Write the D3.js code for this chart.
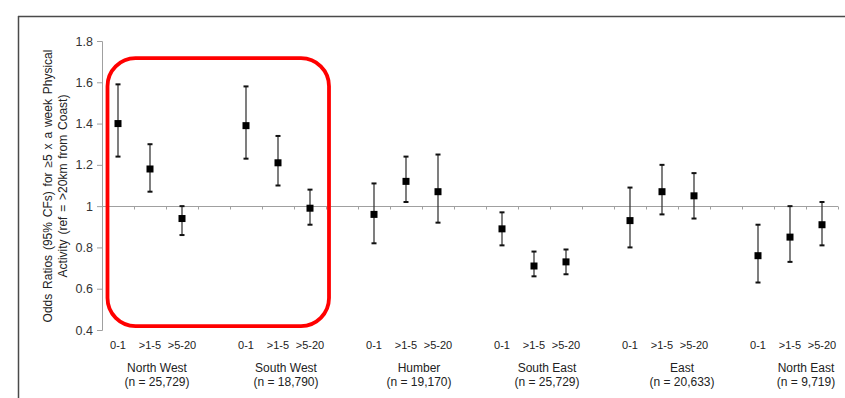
<!DOCTYPE html>
<html>
<head>
<meta charset="utf-8">
<script src="https://cdn.jsdelivr.net/npm/d3@7"></script>
<style>
  html, body { margin: 0; padding: 0; background: #fff; }
  svg { display: block; font-family: "Liberation Sans", Arial, sans-serif; }
</style>
</head>
<body>
<svg id="chart" width="845" height="398"></svg>
<script>
// ---- data ----
const regions = ["North West", "South West", "Humber", "South East", "East", "North East"];
const regionN = ["(n = 25,729)", "(n = 18,790)", "(n = 19,170)", "(n = 25,729)", "(n = 20,633)", "(n = 9,719)"];
const distances = ["0-1", ">1-5", ">5-20"];
// odds ratios per region, in distance order
const oddsRatio = [
  [1.40, 1.18, 0.94],
  [1.39, 1.21, 0.99],
  [0.96, 1.12, 1.07],
  [0.89, 0.71, 0.73],
  [0.93, 1.07, 1.05],
  [0.76, 0.85, 0.91]
];
const ciLower = [
  [1.24, 1.07, 0.86],
  [1.23, 1.10, 0.91],
  [0.82, 1.02, 0.92],
  [0.81, 0.66, 0.67],
  [0.80, 0.96, 0.94],
  [0.63, 0.73, 0.81]
];
const ciUpper = [
  [1.59, 1.30, 1.00],
  [1.58, 1.34, 1.08],
  [1.11, 1.24, 1.25],
  [0.97, 0.78, 0.79],
  [1.09, 1.20, 1.16],
  [0.91, 1.00, 1.02]
];
const yTicks = [0.4, 0.6, 0.8, 1, 1.2, 1.4, 1.6, 1.8];
const yTitle = ["Odds Ratios (95% CFs) for \u22655 x a week Physical", "Activity (ref = >20km from Coast)"];
const highlightRegions = ["North West", "South West"];

(function () {
// ---- layout ----
const svg = d3.select("#chart");
const mLeft = 102, mRight = 838, mTop = 41, mBottom = 330;

// slots: 3 per region + a blank slot between regions
const slots = [];
regions.forEach((r, i) => {
  distances.forEach(d => slots.push(r + "|" + d));
  if (i < regions.length - 1) slots.push("gap" + i);
});

const x = d3.scaleBand().domain(slots).range([mLeft, mRight]).padding(0);
const y = d3.scaleLinear().domain([0.4, 1.8]).range([mBottom, mTop]);

const points = [];
regions.forEach((r, i) => distances.forEach((d, j) => points.push({
  key: r + "|" + d, region: r, dist: d,
  or: oddsRatio[i][j], lo: ciLower[i][j], hi: ciUpper[i][j]
})));

// outer frame
svg.append("line").attr("x1", 18).attr("x2", 845).attr("y1", 16.5).attr("y2", 16.5)
  .attr("stroke", "#4a4a4a").attr("stroke-width", 1.5);
svg.append("line").attr("x1", 18.5).attr("x2", 18.5).attr("y1", 16).attr("y2", 398)
  .attr("stroke", "#4a4a4a").attr("stroke-width", 1.5);

// y axis
const yAxis = d3.axisLeft(y).tickValues(yTicks).tickSize(5).tickPadding(4)
  .tickFormat(d => String(d));
const gy = svg.append("g").attr("transform", `translate(${mLeft},0)`).call(yAxis);
gy.select(".domain").attr("stroke", "#a0a0a0");
gy.selectAll(".tick line").attr("stroke", "#a0a0a0");
gy.selectAll(".tick text").attr("fill", "#333").attr("font-size", 12.5)
  .attr("font-family", "Liberation Sans, Arial, sans-serif");

// x axis line at OR = 1
const y1 = Math.round(y(1)) + 0.5;
svg.append("line").attr("x1", mLeft).attr("x2", mRight).attr("y1", y1).attr("y2", y1)
  .attr("stroke", "#a0a0a0").attr("stroke-width", 1);
const boundaries = slots.map(s => x(s)).concat([mRight]);
svg.append("g").selectAll("line").data(boundaries).join("line")
  .attr("x1", d => Math.round(d) + 0.5).attr("x2", d => Math.round(d) + 0.5)
  .attr("y1", y1).attr("y2", y1 + 3).attr("stroke", "#a0a0a0");

// y title
const yt = svg.append("text")
  .attr("transform", `translate(52,186) rotate(-90)`)
  .attr("text-anchor", "middle").attr("font-size", 12).attr("fill", "#222")
  .attr("word-spacing", 1.5);
yTitle.forEach((t, i) => yt.append("tspan").attr("x", 0).attr("dy", i === 0 ? 0 : 15).text(t));

// category labels
svg.append("g").selectAll("text").data(points).join("text")
  .attr("x", d => x(d.key) + x.bandwidth() / 2)
  .attr("y", 349)
  .attr("text-anchor", "middle").attr("font-size", 11).attr("fill", "#222")
  .text(d => d.dist);

// region labels (centered a little right of the middle slot, as in the original)
const labelShift = [7, 8, 13, 13, 20, 16];
const rg = svg.append("g");
regions.forEach((r, i) => {
  const cx = x(r + "|" + distances[1]) + x.bandwidth() / 2 + labelShift[i];
  rg.append("text").attr("x", cx).attr("y", 372).attr("text-anchor", "middle")
    .attr("font-size", 12).attr("fill", "#222").text(r);
  rg.append("text").attr("x", cx).attr("y", 386).attr("text-anchor", "middle")
    .attr("font-size", 12).attr("fill", "#222").text(regionN[i]);
});

// error bars
const eb = svg.append("g");
const cap = 2.5;
points.forEach(p => {
  const cx = x(p.key) + x.bandwidth() / 2;
  eb.append("line").attr("x1", cx).attr("x2", cx).attr("y1", y(p.hi)).attr("y2", y(p.lo))
    .attr("stroke", "#3a3a3a").attr("stroke-width", 1.3);
  [p.hi, p.lo].forEach(v => eb.append("line")
    .attr("x1", cx - cap).attr("x2", cx + cap).attr("y1", y(v)).attr("y2", y(v))
    .attr("stroke", "#111").attr("stroke-width", 2));
});

// markers
svg.append("g").selectAll("rect").data(points).join("rect")
  .attr("x", d => x(d.key) + x.bandwidth() / 2 - 3.5)
  .attr("y", d => y(d.or) - 3.5)
  .attr("width", 7).attr("height", 7).attr("fill", "#000");

// highlight box around first two regions
const hx0 = x(highlightRegions[0] + "|" + distances[0]) + 5.5;
const hx1 = x(highlightRegions[1] + "|" + distances[2]) + x.bandwidth() + 3;
svg.append("rect")
  .attr("x", hx0).attr("y", y(1.717))
  .attr("width", hx1 - hx0).attr("height", y(0.419) - y(1.717))
  .attr("rx", 28).attr("ry", 28)
  .attr("fill", "none").attr("stroke", "#ff0000").attr("stroke-width", 3.8);
})();
</script>
</body>
</html>
